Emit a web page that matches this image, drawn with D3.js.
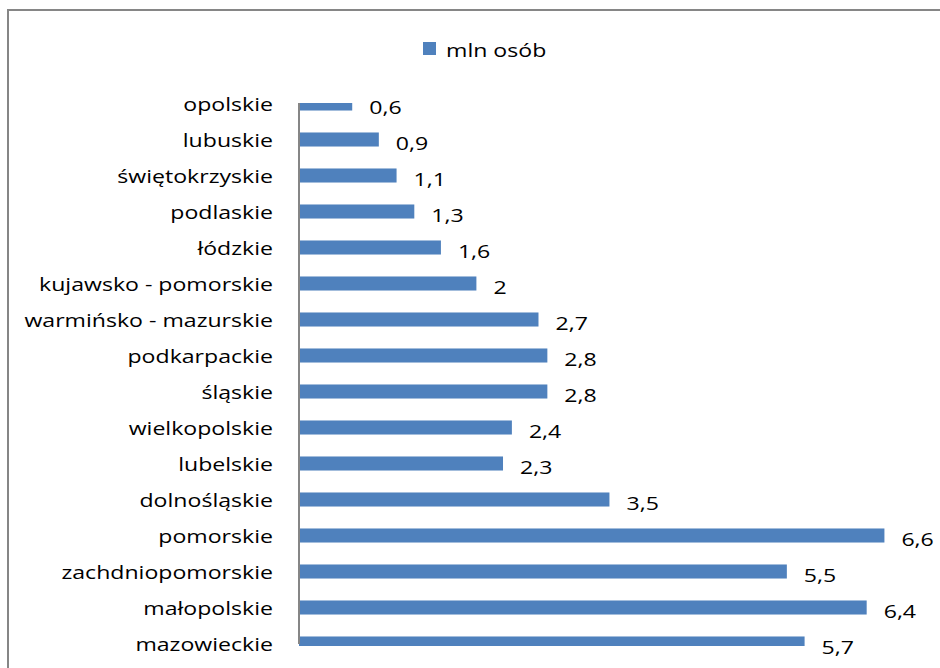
<!DOCTYPE html>
<html>
<head>
<meta charset="utf-8">
<script src="https://cdn.jsdelivr.net/npm/d3@7"></script>
<style>
  body { margin: 0; background: #fff; }
  svg { display: block; font-family: "Open Sans", Lato, sans-serif; }
</style>
</head>
<body>
<div id="chart"></div>
<script>
// data (top to bottom as drawn)
var regions = ["opolskie", "lubuskie", "świętokrzyskie", "podlaskie", "łódzkie",
  "kujawsko - pomorskie", "warmińsko - mazurskie", "podkarpackie", "śląskie",
  "wielkopolskie", "lubelskie", "dolnośląskie", "pomorskie", "zachdniopomorskie",
  "małopolskie", "mazowieckie"];
var values = [0.6, 0.9, 1.1, 1.3, 1.6, 2, 2.7, 2.8, 2.8, 2.4, 2.3, 3.5, 6.6, 5.5, 6.4, 5.7];
var seriesName = "mln osób";

var svgWidth = 940;
var svgHeight = 668;
var barColor = "#4f81bd";
var fontSize = "17.5px";
// the original picture is stretched sideways, so the text is too
var stretch = 1.32;

var svg = d3.select("#chart")
  .append("svg")
  .attr("width", svgWidth)
  .attr("height", svgHeight);

// outer chart frame
svg.append("rect")
  .attr("x", 8)
  .attr("y", 10)
  .attr("width", 1000)
  .attr("height", 1000)
  .attr("fill", "none")
  .attr("stroke", "#868686")
  .attr("stroke-width", 2);

// plot area
var plot = { left: 299, top: 103, bottom: 646 };

var xScale = d3.scaleLinear()
  .domain([0, 7])
  .range([plot.left, plot.left + 7 * 88.7]);

// band centres sit 36px apart, first one on the top edge of the plot
var yScale = d3.scaleBand()
  .domain(regions)
  .range([85.5, 85.5 + 36 * regions.length])
  .paddingInner(0.61)
  .paddingOuter(0.305);

svg.append("clipPath")
  .attr("id", "plotClip")
  .append("rect")
  .attr("x", plot.left)
  .attr("y", plot.top)
  .attr("width", 700)
  .attr("height", plot.bottom - plot.top);

var barGroup = svg.append("g").attr("clip-path", "url(#plotClip)");

barGroup.selectAll("rect.bar")
  .data(values)
  .enter()
  .append("rect")
  .attr("class", "bar")
  .attr("x", xScale(0))
  .attr("y", (d, i) => yScale(regions[i]))
  .attr("width", d => xScale(d) - xScale(0))
  .attr("height", yScale.bandwidth())
  .attr("fill", barColor);

// category axis
var yAxis = d3.axisLeft(yScale).tickSize(0).tickPadding(0);
var axisG = svg.append("g")
  .attr("transform", `translate(${plot.left}, 0)`)
  .call(yAxis);
axisG.select(".domain").remove();
axisG.selectAll("text")
  .attr("x", 0)
  .attr("dy", "0.32em")
  .attr("transform", `translate(-26, 2) scale(${stretch}, 1)`)
  .style("font-family", "'Open Sans', Lato, sans-serif")
  .style("font-size", fontSize)
  .attr("fill", "#000");

svg.append("line")
  .attr("x1", plot.left)
  .attr("x2", plot.left)
  .attr("y1", plot.top)
  .attr("y2", 644)
  .attr("stroke", "#868686")
  .attr("stroke-width", 2);

// value labels
svg.selectAll("text.value")
  .data(values)
  .enter()
  .append("text")
  .attr("class", "value")
  .attr("transform", (d, i) => `translate(${xScale(d) + 17}, ${yScale(regions[i]) + yScale.bandwidth() / 2 + 4}) scale(${stretch}, 1)`)
  .attr("dy", "0.35em")
  .style("font-size", fontSize)
  .text(d => String(d).replace(".", ","));

// legend
var legend = svg.append("g").attr("transform", "translate(423, 42)");
legend.append("rect")
  .attr("width", 13)
  .attr("height", 13)
  .attr("fill", barColor);
legend.append("text")
  .attr("transform", `translate(23, 9) scale(${stretch}, 1)`)
  .attr("dy", "0.35em")
  .style("font-size", fontSize)
  .text(seriesName);
</script>
</body>
</html>
